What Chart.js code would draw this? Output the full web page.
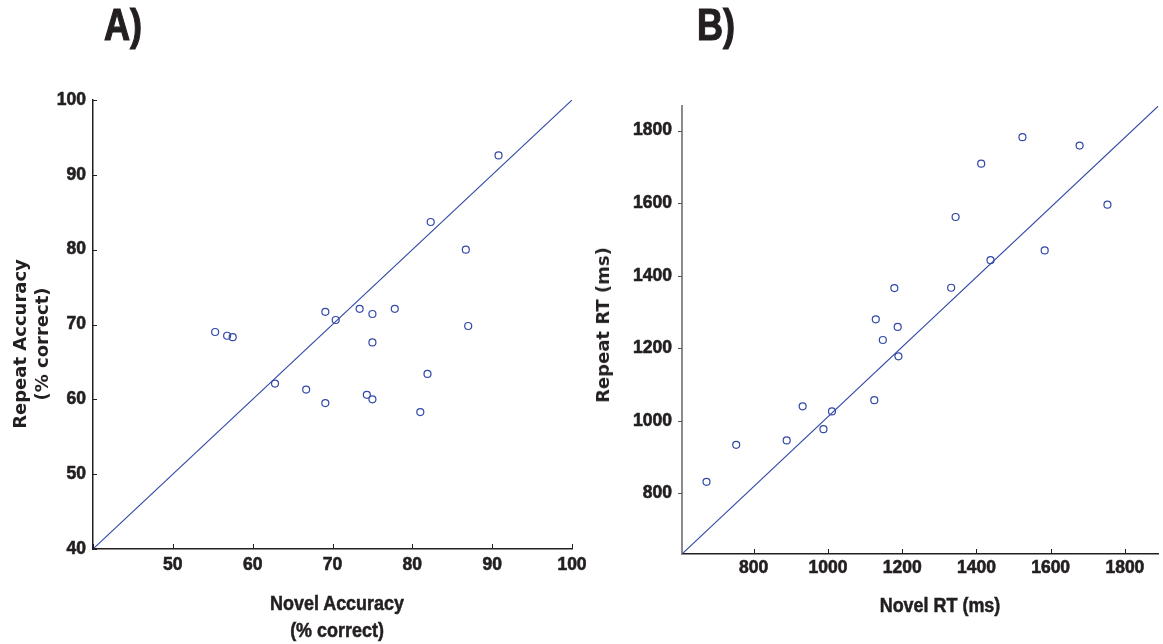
<!DOCTYPE html>
<html>
<head>
<meta charset="utf-8">
<script src="https://cdn.jsdelivr.net/npm/chart.js@4.4.1/dist/chart.umd.min.js"></script>
<style>
  html, body { margin:0; padding:0; background:#fff; }
  body { width:1163px; height:644px; position:relative; overflow:hidden; }
  canvas { position:absolute; top:0; }
  .t { position:absolute; white-space:nowrap; color:#231f20; }
  .narrow { font-family:'Liberation Sans',Arial,sans-serif; font-weight:bold; -webkit-text-stroke:0.5px #231f20; }
  .wide { font-family:'DejaVu Sans',Verdana,sans-serif; font-weight:bold; }
  .rot { transform:translate(-50%,-50%) rotate(-90deg); }
  .ctr { transform:translate(-50%,-50%) scaleX(0.92); }
  .big { transform-origin:0 0; transform:scaleX(0.82); -webkit-text-stroke:1.2px #231f20; }
</style>
</head>
<body>
<canvas id="ca" width="600" height="644" style="left:0;width:600px;height:644px"></canvas>
<canvas id="cb" width="573" height="644" style="left:590px;width:573px;height:644px"></canvas>

<div class="t narrow big" style="left:104px;top:3px;font-size:44px;line-height:44px">A)</div>
<div class="t narrow big" style="left:697px;top:3px;font-size:44px;line-height:44px">B)</div>

<div class="t wide rot" style="left:20px;top:344px;font-size:18px;line-height:18px">Repeat Accuracy</div>
<div class="t wide rot" style="left:42px;top:344px;font-size:18px;line-height:18px">(% correct)</div>
<div class="t narrow ctr" style="left:337px;top:603px;font-size:19.5px;line-height:20px">Novel Accuracy</div>
<div class="t narrow ctr" style="left:337px;top:630px;font-size:19.5px;line-height:20px">(% correct)</div>

<div class="t wide rot" style="left:603px;top:325px;font-size:18px;line-height:18px">Repeat RT (ms)</div>
<div class="t narrow ctr" style="left:940px;top:605px;font-size:19.5px;line-height:20px">Novel RT (ms)</div>

<script>
// ---------- Data ----------
const novelAcc  = [90.8, 82.3, 86.7, 69.1, 70.4, 73.4, 75.0, 77.8, 87.0, 55.3, 56.8, 57.5, 75.0, 62.8, 66.7, 69.1, 74.3, 75.0, 81.9, 81.0];
const repeatAcc = [92.6, 83.7, 80.0, 71.7, 70.6, 72.1, 71.4, 72.1, 69.8, 69.0, 68.5, 68.3, 67.6, 62.1, 61.3, 59.5, 60.6, 60.0, 63.4, 58.3];

const novelRT  = [673, 753, 889, 932, 988, 1011, 1125, 1129, 1148, 1188, 1190, 1179, 1332, 1344, 1438, 1413, 1524, 1584, 1678, 1753];
const repeatRT = [832, 934, 946, 1040, 977, 1026, 1057, 1280, 1223, 1259, 1178, 1366, 1367, 1562, 1443, 1709, 1782, 1470, 1759, 1596];

const limAx = [40, 100];
const limAy = [40, 100];
const limBx = [607, 1890];
const limBy = [633, 1868];

const ticksA = [40, 50, 60, 70, 80, 90, 100];
const ticksB = [800, 1000, 1200, 1400, 1600, 1800];

// reference lines (end points, in data units)
const lineAx = [40, 100];
const lineAy = [40, 100];
const lineBx = [607, 1890];
const lineBy = [633, 1868];

// ---------- Styling ----------
const BLUE = '#3249a6';
const INK = '#231f20';
const FONT = "'Liberation Sans', Arial, sans-serif";
Chart.defaults.font.family = FONT;
Chart.defaults.color = INK;

const zip = (xs, ys) => xs.map((x, i) => ({x, y: ys[i]}));

const tickPlugin = {
  id: 'customTicks',
  afterDraw(chart, args, opts) {
    const ctx = chart.ctx;
    for (const [id, cfg] of Object.entries(opts.scales || {})) {
      const s = chart.scales[id];
      ctx.save();
      ctx.strokeStyle = cfg.color;
      ctx.lineWidth = cfg.width;
      ctx.beginPath();
      s.ticks.forEach(t => {
        const p = Math.round(s.getPixelForValue(t.value)) + 0.5;
        if (s.isHorizontal()) {
          ctx.moveTo(p, s.top); ctx.lineTo(p, s.top + cfg.dir * cfg.len);
        } else {
          ctx.moveTo(s.right, p); ctx.lineTo(s.right + cfg.dir * cfg.len, p);
        }
      });
      ctx.stroke();
      ctx.restore();
    }
  }
};

function makeChart(id, xs, ys, lx, ly, limX, limY, ticks, geo) {
  const tickFont = { size: 17.5, weight: 'bold' };
  return new Chart(document.getElementById(id), {
    type: 'scatter',
    data: {
      datasets: [
        {
          data: zip(xs, ys),
          pointStyle: 'circle',
          pointRadius: 3.5,
          pointBorderWidth: 1.2,
          borderColor: BLUE,
          backgroundColor: 'rgba(0,0,0,0)',
          pointHoverRadius: 3.5
        },
        {
          type: 'line',
          data: zip(lx, ly),
          borderColor: BLUE,
          borderWidth: 1.1,
          pointRadius: 0,
          fill: false,
          tension: 0
        }
      ]
    },
    options: {
      responsive: false,
      animation: false,
      events: [],
      layout: { padding: { left: 0, top: geo.top, right: geo.right, bottom: 0 } },
      plugins: {
        legend: { display: false },
        tooltip: { enabled: false },
        customTicks: { scales: geo.tickCfg }
      },
      scales: {
        x: {
          type: 'linear',
          min: limX[0], max: limX[1],
          afterBuildTicks: s => { s.ticks = ticks.x.map(v => ({value: v})); },
          afterFit: s => { s.height = geo.xh; },
          grid: { display: true, drawOnChartArea: false, drawTicks: false },
          border: { display: true, color: geo.xAxisColor, width: geo.xAxisWidth },
          ticks: {
            padding: geo.xpad,
            font: tickFont,
            color: INK,
            textStrokeColor: INK,
            textStrokeWidth: 0.6,
            maxRotation: 0,
            autoSkip: false,
            callback: v => (geo.hideX.includes(v) ? '' : String(v))
          }
        },
        y: {
          type: 'linear',
          min: limY[0], max: limY[1],
          afterBuildTicks: s => { s.ticks = ticks.y.map(v => ({value: v})); },
          afterFit: s => { s.width = geo.yw; },
          grid: { display: true, drawOnChartArea: false, drawTicks: false },
          border: { display: true, color: geo.yAxisColor, width: geo.yAxisWidth },
          ticks: {
            padding: geo.ypad,
            font: tickFont,
            color: INK,
            textStrokeColor: INK,
            textStrokeWidth: 0.6,
            autoSkip: false,
            callback: v => String(v)
          }
        }
      }
    },
    plugins: [tickPlugin]
  });
}

makeChart('ca', novelAcc, repeatAcc, lineAx, lineAy, limAx, limAy,
  { x: ticksA, y: ticksA },
  {
    top: 100, right: 28, xh: 95, yw: 93, xpad: 6, ypad: 7,
    hideX: [40],
    xAxisColor: INK, xAxisWidth: 1.5,
    yAxisColor: INK, yAxisWidth: 1.5,
    tickCfg: {
      x: { dir: -1, len: 5, color: INK, width: 1 },
      y: { dir: 1, len: 4, color: INK, width: 1 }
    }
  });

makeChart('cb', novelRT, repeatRT, lineBx, lineBy, limBx, limBy,
  { x: ticksB, y: ticksB },
  {
    top: 106, right: 2, xh: 90, yw: 92, xpad: 4, ypad: 10,
    hideX: [],
    xAxisColor: INK, xAxisWidth: 1.5,
    yAxisColor: '#8a8a8a', yAxisWidth: 2,
    tickCfg: {
      x: { dir: -1, len: 5, color: INK, width: 1 },
      y: { dir: -1, len: 4, color: '#555', width: 1 }
    }
  });
</script>
</body>
</html>
